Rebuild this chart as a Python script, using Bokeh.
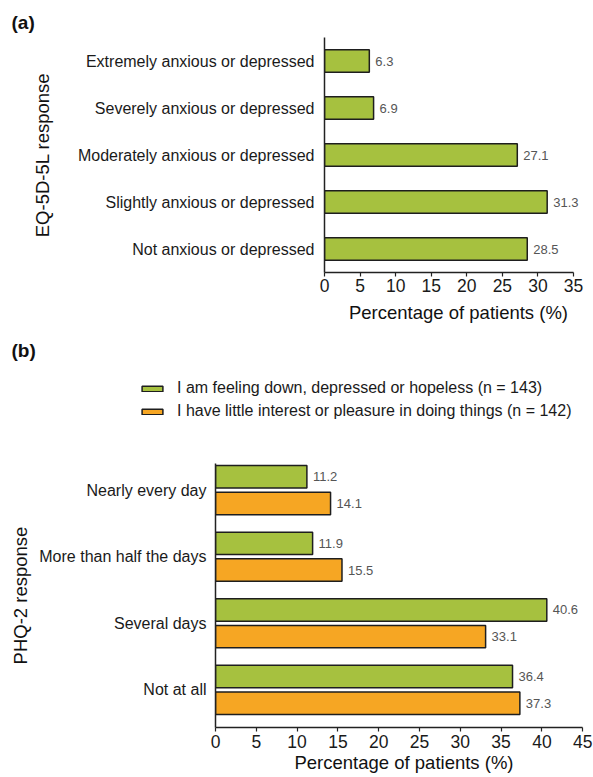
from bokeh.plotting import figure
from bokeh.layouts import column
from bokeh.models import (ColumnDataSource, Range1d, FactorRange, FixedTicker,
                          Label, Legend, LegendItem)
from bokeh.transform import dodge
from bokeh.core.properties import value
from bokeh.embed import file_html
from bokeh.resources import INLINE

FONT = "Liberation Sans"
GREEN = "#A6C13F"
ORANGE = "#F6A623"
EDGE = "#1e1e1e"
AXIS = "#222222"
W = 593

# ---------------- data: panel (a) ----------------
eq_categories = [
    "Extremely anxious or depressed",
    "Severely anxious or depressed",
    "Moderately anxious or depressed",
    "Slightly anxious or depressed",
    "Not anxious or depressed",
]
eq_values = [6.3, 6.9, 27.1, 31.3, 28.5]
xticks_a = [0, 5, 10, 15, 20, 25, 30, 35]

# ---------------- data: panel (b) ----------------
phq_categories = ["Nearly every day", "More than half the days", "Several days", "Not at all"]
phq_down = [11.2, 11.9, 40.6, 36.4]
phq_interest = [14.1, 15.5, 33.1, 37.3]
series_labels = [
    "I am feeling down, depressed or hopeless (n = 143)",
    "I have little interest or pleasure in doing things (n = 142)",
]
xticks_b = [0, 5, 10, 15, 20, 25, 30, 35, 40, 45]


def style_axes(p, xlabel, ylabel, tick_standoff, x_title_standoff, y_label_standoff, y_standoff):
    p.outline_line_color = None
    p.xgrid.grid_line_color = None
    p.ygrid.grid_line_color = None
    for ax in (p.xaxis[0], p.yaxis[0]):
        ax.axis_line_color = AXIS
        ax.axis_line_width = 1.5
        ax.major_label_text_font = FONT
        ax.axis_label_text_font = FONT
        ax.axis_label_text_font_style = "normal"
        ax.axis_label_text_color = "#111111"
        ax.major_label_text_color = "#1a1a1a"
        ax.minor_tick_line_color = None
    xa = p.xaxis[0]
    xa.axis_label = xlabel
    xa.axis_label_text_font_size = "18.5px"
    xa.major_label_text_font_size = "17.5px"
    xa.major_tick_line_color = AXIS
    xa.major_tick_line_width = 1.2
    xa.major_tick_out = 4
    xa.major_tick_in = 0
    xa.major_label_standoff = tick_standoff
    xa.axis_label_standoff = x_title_standoff
    ya = p.yaxis[0]
    ya.axis_label = ylabel
    ya.axis_label_text_font_size = "18.5px"
    ya.major_label_text_font_size = "16px"
    ya.major_tick_line_color = None
    ya.major_tick_out = 0
    ya.major_tick_in = 0
    ya.major_label_standoff = y_label_standoff
    ya.axis_label_standoff = y_standoff


# ================= panel (a) =================
pa = figure(width=W, height=335,
            y_range=FactorRange(*reversed(eq_categories), range_padding=0),
            x_range=Range1d(0, 37.67), frame_align=False,
            output_backend="svg", toolbar_location=None,
            min_border_left=324, min_border_right=1,
            min_border_top=37, min_border_bottom=63)
src_a = ColumnDataSource(dict(cat=eq_categories, val=eq_values,
                              lbl=[f"{v:.1f}" for v in eq_values]))
pa.hbar(y="cat", left=0, right="val", height=0.48, source=src_a,
        fill_color=GREEN, line_color=EDGE, line_width=1.5)
pa.text(x="val", y="cat", text="lbl", source=src_a, x_offset=6,
        text_baseline="middle", text_align="left",
        text_font=value(FONT), text_font_size="13px", text_color="#555555")
style_axes(pa, "Percentage of patients (%)", "EQ-5D-5L response", 2, 7, 10, 22)
pa.xaxis.ticker = FixedTicker(ticks=xticks_a)
pa.xaxis.bounds = (0, 35)
pa.title.text = "(a)"
pa.title.align = "left"
pa.title.offset = 11 - 324
pa.title.text_font = FONT
pa.title.text_font_size = "19px"
pa.title.text_font_style = "bold"
pa.title.text_color = "#111111"

# ================= header of panel (b): label + legend =================
hb = figure(width=W, height=128, x_range=Range1d(0, 1), y_range=Range1d(0, 1),
            x_axis_type=None, y_axis_type=None, min_border=0, frame_align=False,
            output_backend="svg", toolbar_location=None)
hb.outline_line_color = None
hb.add_layout(Label(x=11, y=113, x_units="screen", y_units="screen", text="(b)",
                    text_font=FONT, text_font_style="bold", text_font_size="19px",
                    text_baseline="middle", text_color="#111111"))
src_key = ColumnDataSource(dict(y=list(range(len(phq_categories))),
                                down=phq_down, interest=phq_interest))
k1 = hb.hbar(y="y", right="down", height=0.5, source=src_key, visible=False,
             fill_color=GREEN, line_color=EDGE, line_width=1.5)
k2 = hb.hbar(y="y", right="interest", height=0.5, source=src_key, visible=False,
             fill_color=ORANGE, line_color=EDGE, line_width=1.5)
legend = Legend(items=[LegendItem(label=series_labels[0], renderers=[k1]),
                       LegendItem(label=series_labels[1], renderers=[k2])],
                location=(139, 42), orientation="vertical",
                glyph_width=26, glyph_height=7, label_standoff=12,
                label_height=20, spacing=3, padding=0, margin=0,
                border_line_color=None, background_fill_alpha=0,
                inactive_fill_alpha=0, click_policy="none",
                label_text_font=FONT, label_text_font_size="16px",
                label_text_color="#1a1a1a")
hb.add_layout(legend)

# ================= panel (b) =================
n = len(phq_categories)
ypos = [n - 1 - i for i in range(n)]
pb = figure(width=W, height=314,
            x_range=Range1d(0, 46.2), y_range=Range1d(-0.565, 3.40), frame_align=False,
            output_backend="svg", toolbar_location=None,
            min_border_left=215, min_border_right=1,
            min_border_top=0, min_border_bottom=50)
src_b = ColumnDataSource(dict(y=ypos, down=phq_down, interest=phq_interest,
                              lbl_down=[f"{v:.1f}" for v in phq_down],
                              lbl_int=[f"{v:.1f}" for v in phq_interest]))
pb.hbar(y=dodge("y", 0.2), left=0, right="down", height=0.337, source=src_b,
        fill_color=GREEN, line_color=EDGE, line_width=1.5)
pb.hbar(y=dodge("y", -0.2), left=0, right="interest", height=0.337, source=src_b,
        fill_color=ORANGE, line_color=EDGE, line_width=1.5)
pb.text(x="down", y=dodge("y", 0.2), text="lbl_down", source=src_b, x_offset=6,
        text_baseline="middle", text_font=value(FONT), text_font_size="13px",
        text_color="#555555")
pb.text(x="interest", y=dodge("y", -0.2), text="lbl_int", source=src_b, x_offset=6,
        text_baseline="middle", text_font=value(FONT), text_font_size="13px",
        text_color="#555555")
style_axes(pb, "Percentage of patients (%)", "PHQ-2 response", 3, 1, 9, 5)
pb.xaxis.ticker = FixedTicker(ticks=xticks_b)
pb.xaxis.bounds = (0, 45)
pb.yaxis.ticker = FixedTicker(ticks=ypos)
pb.yaxis.major_label_overrides = {y: c for y, c in zip(ypos, phq_categories)}

layout = column(pa, hb, pb)
open("out.html", "w").write(file_html(layout, INLINE))
